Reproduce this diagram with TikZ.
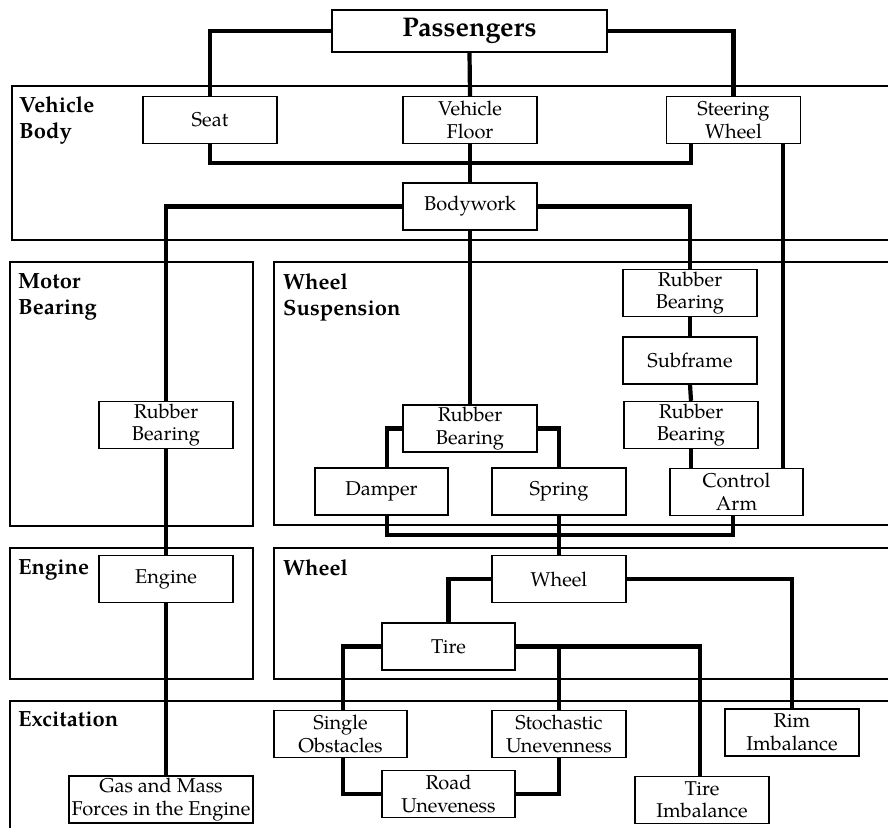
\documentclass[tikz,border=0pt]{standalone}
\usepackage{fontspec}
\setmainfont{TeX Gyre Pagella}
\begin{document}
\begin{tikzpicture}[x=1pt,y=-1pt,
  comp/.style={draw,line width=1.4pt,minimum width=134pt,minimum height=47pt,
    inner sep=0pt,align=center,font=\fontsize{20}{22.5}\selectfont},
  grp/.style={draw,line width=1.4pt},
  grplabel/.style={anchor=north west,inner sep=0pt,align=left,
    font=\fontsize{22}{26}\selectfont\bfseries},
  link/.style={line width=4.2pt}]
\useasboundingbox (0,0) rectangle (888,827);

% subsystem frames
\draw[grp] (12,86) rectangle (900,240);
\draw[grp] (10,262) rectangle (253,526);
\draw[grp] (274,262) rectangle (900,525);
\draw[grp] (10,548) rectangle (253,679);
\draw[grp] (274,548) rectangle (900,679);
\draw[grp] (10,701) rectangle (900,840);

\node[grplabel] (lvb) at (19,96) {Vehicle\\Body};
\node[grplabel] (lmb) at (18,273) {Motor\\Bearing};
\node[grplabel] (lws) at (283,273) {Wheel\\Suspension};
\node[grplabel] (len) at (18,559) {Engine};
\node[grplabel] (lwh) at (283,559) {Wheel};
\node[grplabel] (lex) at (18,711) {Excitation};

% components
\node[comp,minimum width=275pt,minimum height=42pt,
  font=\fontsize{27}{30}\selectfont\bfseries] (pass) at (469.5,31) {Passengers};
\node[comp] (seat) at (210,120) {Seat};
\node[comp] (floor) at (470,120) {Vehicle\\Floor};
\node[comp] (steer) at (733.5,120) {Steering\\Wheel};
\node[comp] (body) at (470,206.5) {Bodywork};
\node[comp] (mbrb) at (166,425) {Rubber\\Bearing};
\node[comp] (wsrb) at (470,428.5) {Rubber\\Bearing};
\node[comp,minimum width=133pt] (damper) at (381.5,491.5) {Damper};
\node[comp] (spring) at (559,491.5) {Spring};
\node[comp] (rbu) at (690,293) {Rubber\\Bearing};
\node[comp] (sub) at (690,360.5) {Subframe};
\node[comp] (rbl) at (691,425) {Rubber\\Bearing};
\node[comp,minimum width=133pt] (arm) at (736.5,492) {Control\\Arm};
\node[comp] (eng) at (166,579) {Engine};
\node[comp] (wheel) at (559,579) {Wheel};
\node[comp,minimum width=133pt] (tire) at (448.5,646.5) {Tire};
\node[comp,minimum width=133pt] (single) at (340.5,734) {Single\\Obstacles};
\node[comp,minimum width=133pt] (road) at (448.5,794) {Road\\Uneveness};
\node[comp] (stoch) at (559,734) {Stochastic\\Unevenness};
\node[comp] (rim) at (792,732.5) {Rim\\Imbalance};
\node[comp] (timb) at (702,800) {Tire\\Imbalance};
\node[comp,minimum width=184pt] (gas) at (161,799.5) {Gas and Mass\\Forces in the Engine};

% junction helpers
\coordinate (sj) at (691,163);
\coordinate (sa) at (783,0);
\coordinate (dj) at (387,0);
\coordinate (bj) at (733,535);
\coordinate (ts) at (343,0);
\coordinate (ti) at (700,0);

% connections
\draw[link] (pass.west) -| (seat.north);
\draw[link] (pass.south) -- (floor.north);
\draw[link] (pass.east) -| (steer.north);
\draw[link] (seat.south) |- (sj) -- (sj |- steer.south);
\draw[link] (floor.south) -- (body.north);
\draw[link] (body.west) -| (mbrb.north);
\draw[link] (body.south) -- (wsrb.north);
\draw[link] (body.east) -| (rbu.north);
\draw[link] (sa |- steer.south) -- (sa |- arm.north);
\draw[link] (mbrb.south) -- (eng.north);
\draw[link] (eng.south) -- (eng.south |- gas.north);
\draw[link] (wsrb.west) -| (dj |- damper.north);
\draw[link] (wsrb.east) -| (spring.north);
\draw[link] (dj |- damper.south) |- (bj) -- (bj |- arm.south);
\draw[link] (spring.south) -- (wheel.north);
\draw[link] (rbu.south) -- (sub.north);
\draw[link] (sub.south) -- (rbl.north);
\draw[link] (rbl.south) -- (rbl.south |- arm.north);
\draw[link] (wheel.west) -| (tire.north);
\draw[link] (wheel.east) -| (rim.north);
\draw[link] (tire.west) -| (ts |- single.north);
\draw[link] (tire.east) -| (ti |- timb.north);
\draw[link] (stoch.north |- tire.east) -- (stoch.north);
\draw[link] (ts |- single.south) |- (road.west);
\draw[link] (stoch.south) |- (road.east);
\end{tikzpicture}
\end{document}
